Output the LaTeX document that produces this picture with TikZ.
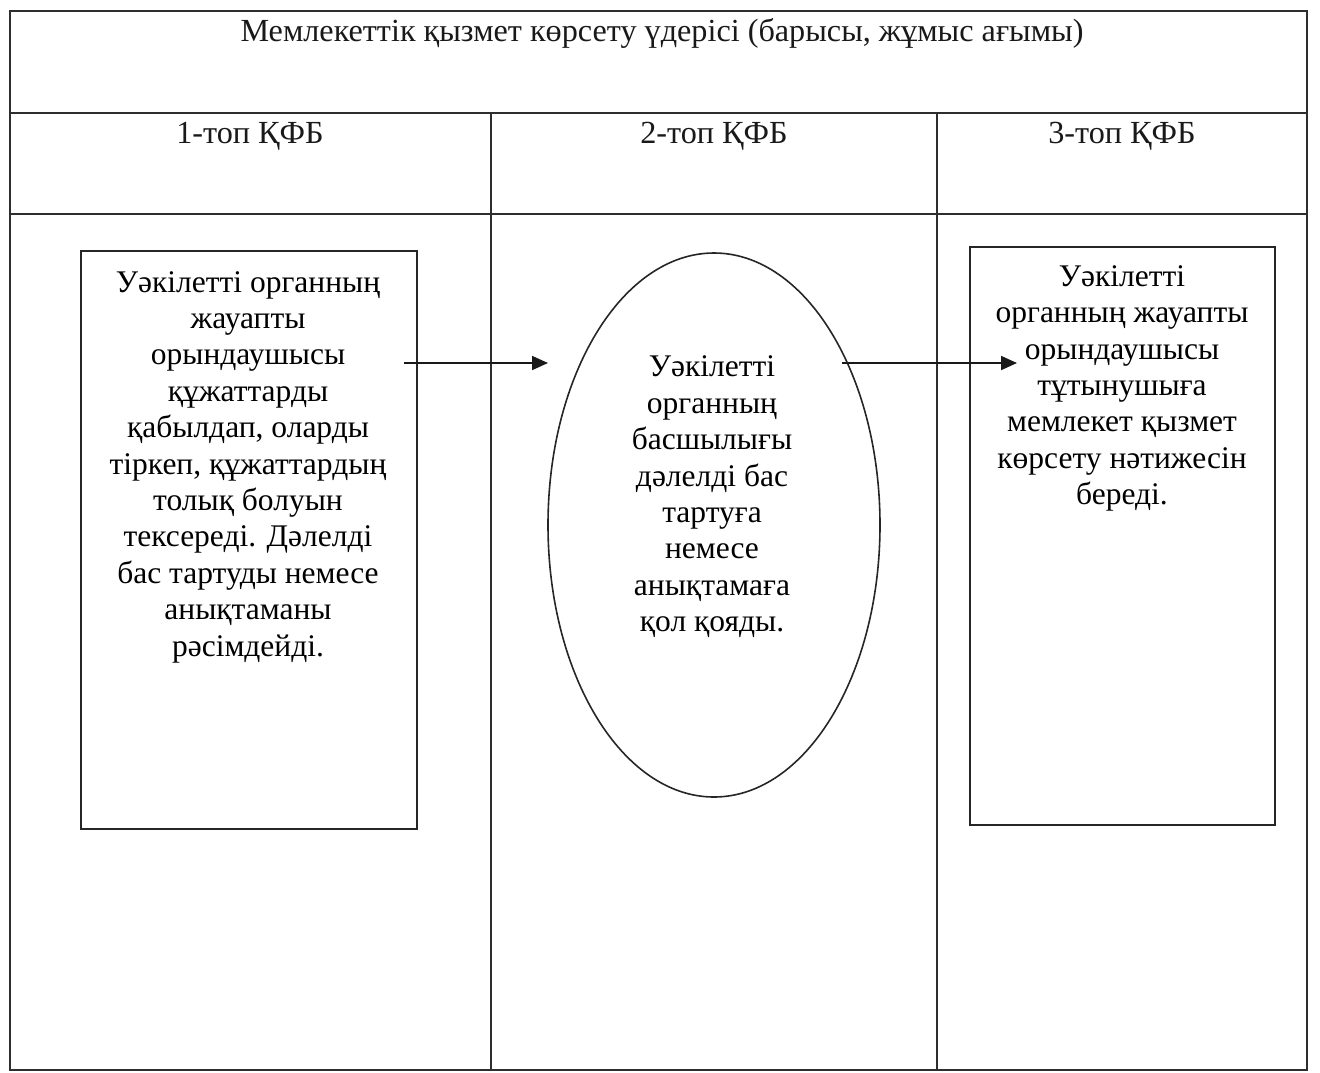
\documentclass[tikz,border=0pt]{standalone}
\usepackage{fontspec}
\setmainfont{Liberation Serif}
\usetikzlibrary{arrows.meta}
\tikzset{
  rule/.style={line width=1.7pt, draw=black!82},
  boxshape/.style={rectangle, line width=1.5pt, draw=black!85, inner sep=0pt},
  ovalshape/.style={line width=1.6pt, draw=black!85},
  hdr/.style={font=\fontsize{32.2}{38}\selectfont, inner sep=0pt, anchor=base, text=black!90},
  body/.style={font=\fontsize{31.5}{36.4}\selectfont, align=center, inner sep=0pt, text=black},
  flow/.style={line width=1.8pt, draw=black!90, -{Triangle[length=16pt,width=14pt]}}
}
\begin{document}
\begin{tikzpicture}[x=1pt,y=-1pt]
\useasboundingbox (0,0) rectangle (1320,1072);
% table
\draw[rule] (10,11) rectangle (1307,1070);
\draw[rule] (10,113) -- (1307,113);
\draw[rule] (10,214) -- (1307,214);
\draw[rule] (491,113) -- (491,1070);
\draw[rule] (937,113) -- (937,1070);
% headers
\node[hdr] (title) at (662,41) {Мемлекеттік қызмет көрсету үдерісі (барысы, жұмыс ағымы)};
\node[hdr] (g1) at (250,143) {1-топ ҚФБ};
\node[hdr] (g2) at (714,143) {2-топ ҚФБ};
\node[hdr] (g3) at (1122,143) {3-топ ҚФБ};
% shapes
\node[boxshape, minimum width=336pt, minimum height=578pt] (box1) at (249,540) {};
\draw[ovalshape] (714,525) ellipse [x radius=166, y radius=272];
\coordinate (ell) at (714,525);
\node[boxshape, minimum width=305pt, minimum height=578pt] (box3) at (1122.5,536) {};
% texts
\node[body] (t1) at (248,467) {Уәкілетті органның\\жауапты\\орындаушысы\\құжаттарды\\қабылдап, оларды\\тіркеп, құжаттардың\\толық болуын\\тексереді. Дәлелді\\бас тартуды немесе\\анықтаманы\\рәсімдейді.};
\node[body] (t2) at (712,497) {Уәкілетті\\органның\\басшылығы\\дәлелді бас\\тартуға\\немесе\\анықтамаға\\қол қояды.};
\node[body] (t3) at (1122,388.5) {Уәкілетті\\органның жауапты\\орындаушысы\\тұтынушыға\\мемлекет қызмет\\көрсету нәтижесін\\береді.};
% arrows
\coordinate (a1s) at (404,363);
\coordinate (a1e) at (548,363);
\coordinate (a2s) at (842,363);
\coordinate (a2e) at (1017,363);
\draw[flow] (a1s) -- (a1e);
\draw[flow] (a2s) -- (a2e);
\end{tikzpicture}
\end{document}
